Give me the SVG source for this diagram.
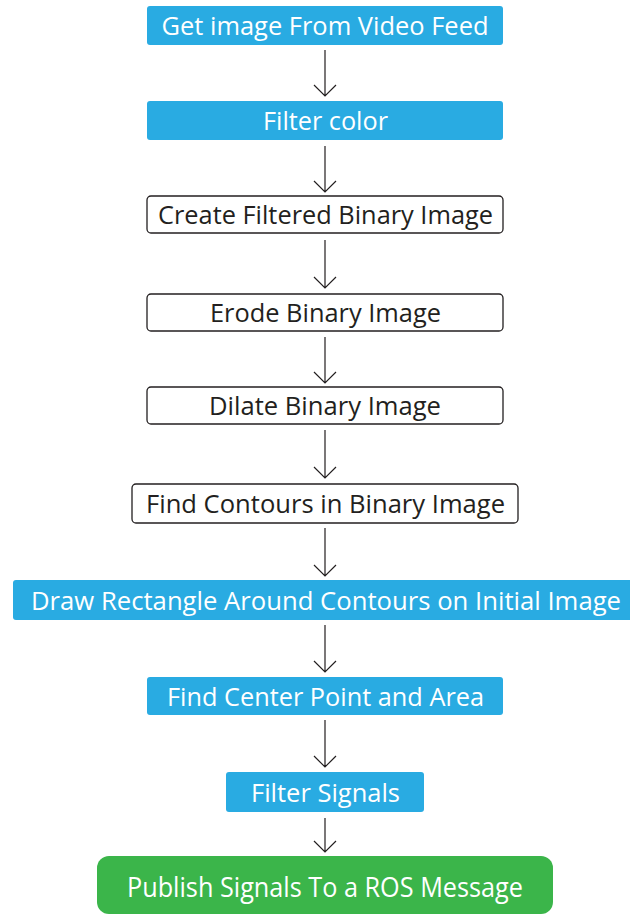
<svg xmlns="http://www.w3.org/2000/svg" width="630" height="915" viewBox="0 0 630 915">
<style>
.blue{fill:#29abe2}
.green{fill:#3bb54a}
.white{fill:#ffffff;stroke:#231f20;stroke-width:1.3}
.tw{font-family:"Open Sans","Liberation Sans",sans-serif;font-size:25px;fill:#ffffff;text-anchor:middle}
.tb{font-family:"Open Sans","Liberation Sans",sans-serif;font-size:25px;fill:#231f20;text-anchor:middle}
.arr{fill:none;stroke:#231f20;stroke-width:1.2}
</style>
<rect width="630" height="915" fill="#ffffff"/>
<g id="connectors">
<path class="arr" d="M325 50V96M314 85L325 96L336 85"/>
<path class="arr" d="M325 146V192M314 181L325 192L336 181"/>
<path class="arr" d="M325 240V288M314 277L325 288L336 277"/>
<path class="arr" d="M325 337V383M314 372L325 383L336 372"/>
<path class="arr" d="M325 430V478M314 467L325 478L336 467"/>
<path class="arr" d="M325 528V576M314 565L325 576L336 565"/>
<path class="arr" d="M325 625V672M314 661L325 672L336 661"/>
<path class="arr" d="M325 720V767M314 756L325 767L336 756"/>
<path class="arr" d="M325 818V852M314 841L325 852L336 841"/>
</g>
<g id="n1"><rect class="blue" x="147" y="6" width="356" height="39" rx="3"/><text class="tw" x="325" y="35" textLength="327" lengthAdjust="spacingAndGlyphs">Get image From Video Feed</text></g>
<g id="n2"><rect class="blue" x="147" y="101" width="356" height="39" rx="3"/><text class="tw" x="325.5" y="130" textLength="125" lengthAdjust="spacingAndGlyphs">Filter color</text></g>
<g id="n3"><rect class="white" x="147" y="196" width="356" height="37" rx="4"/><text class="tb" x="325.5" y="224" textLength="335" lengthAdjust="spacingAndGlyphs">Create Filtered Binary Image</text></g>
<g id="n4"><rect class="white" x="147" y="294" width="356" height="37" rx="4"/><text class="tb" x="325.5" y="322" textLength="231" lengthAdjust="spacingAndGlyphs">Erode Binary Image</text></g>
<g id="n5"><rect class="white" x="147" y="387" width="356" height="37" rx="4"/><text class="tb" x="325" y="415" textLength="232" lengthAdjust="spacingAndGlyphs">Dilate Binary Image</text></g>
<g id="n6"><rect class="white" x="132" y="484" width="386" height="39" rx="4"/><text class="tb" x="325.5" y="513" textLength="359" lengthAdjust="spacingAndGlyphs">Find Contours in Binary Image</text></g>
<g id="n7"><rect class="blue" x="13" y="580" width="620" height="40" rx="3"/><text class="tw" x="326" y="610" textLength="590" lengthAdjust="spacingAndGlyphs">Draw Rectangle Around Contours on Initial Image</text></g>
<g id="n8"><rect class="blue" x="147" y="677" width="356" height="38" rx="3"/><text class="tw" x="325.5" y="706" textLength="317" lengthAdjust="spacingAndGlyphs">Find Center Point and Area</text></g>
<g id="n9"><rect class="blue" x="226" y="772" width="198" height="40" rx="3"/><text class="tw" x="325.5" y="802" textLength="149" lengthAdjust="spacingAndGlyphs">Filter Signals</text></g>
<g id="n10"><rect class="green" x="97" y="856" width="456" height="58" rx="12"/><text class="tw" x="325" y="897" style="font-size:27px" textLength="396" lengthAdjust="spacingAndGlyphs">Publish Signals To a ROS Message</text></g>
</svg>
